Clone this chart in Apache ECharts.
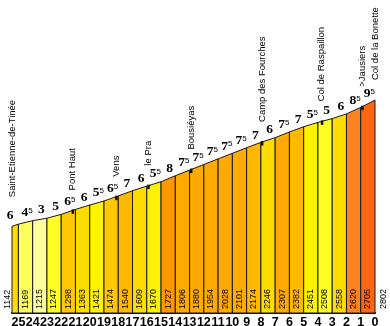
<!DOCTYPE html>
<html><head><meta charset="utf-8">
<script src="https://cdn.jsdelivr.net/npm/echarts@6/dist/echarts.min.js"></script>
<style>html,body{margin:0;padding:0;background:#fff}#c{width:390px;height:326px}</style>
</head><body><div id="c"></div>
<script>
const kmLabels = [25,24,23,22,21,20,19,18,17,16,15,14,13,12,11,10,9,8,7,6,5,4,3,2,1,0];
const kmPositions = [25.45,25,24,23,22,21,20,19,18,17,16,15,14,13,12,11,10,9,8,7,6,5,4,3,2,1,0];
const elevations = [1142,1169,1215,1247,1298,1363,1421,1474,1540,1609,1670,1727,1806,1880,1954,2028,2101,2174,2246,2307,2382,2451,2508,2558,2620,2705,2802];
const gradients = [6,4.5,3,5,6.5,6,5.5,6.5,7,6,5.5,8,7.5,7.5,7.5,7.5,7.5,7,6,7.5,7,5.5,5,6,8.5,9.5];
const placeNames = ['Saint-Etienne-de-Tinée','Pont Haut','Vens','le Pra','Bousiéyas','Camp des Fourches','Col de Raspaillon','>Jausiers','Col de la Bonette'];
const placeKm = [25.45,21.2,18.15,15.9,12.9,7.93,3.73,0.9,0];

function gradColor(g){
  const map = {3:'#FFFFA0',4.5:'#FFFF5C',5:'#FFFF22',5.5:'#FFF200',6:'#FFDC00',6.5:'#FFC800',7:'#FFB800',7.5:'#FFAA00',8:'#FF9800',8.5:'#FF8420',9.5:'#FF6612'};
  return map[g] || '#FFCC00';
}
function elevAt(k){
  for(let i=0;i<kmPositions.length-1;i++){
    const a=kmPositions[i], b=kmPositions[i+1];
    if(k<=a && k>=b){ const t=(a-k)/(a-b); return elevations[i]+t*(elevations[i+1]-elevations[i]); }
  }
  return elevations[elevations.length-1];
}
const segs = gradients.map((g,i)=>[kmPositions[i],elevations[i],kmPositions[i+1],elevations[i+1],g]);
const pts = elevations.map((e,i)=>[kmPositions[i],e]);
const places = placeKm.map((k,i)=>[k,elevAt(k),i]);

const chart = echarts.init(document.getElementById('c'));
chart.setOption({
  animation:false,
  grid:{left:12,right:15,top:85,bottom:13,containLabel:false,outerBoundsMode:'none'},
  xAxis:{type:'value',inverse:true,min:0,max:25.45,interval:1,
    axisLine:{show:true,onZero:true,lineStyle:{color:'#000',width:2}},
    axisTick:{show:false},splitLine:{show:false},
    axisLabel:{fontFamily:'Liberation Sans',fontWeight:'bold',fontSize:12.5,color:'#000',margin:3,
      formatter:v=>kmLabels.includes(v)?String(v):''}},
  yAxis:{type:'value',min:0,max:3000,show:false},
  series:[
    {type:'custom',data:segs,encode:{x:[0,2],y:[1,3]},z:2,
     renderItem:(params,api)=>{
       const p0=api.coord([api.value(0),0]),p1=api.coord([api.value(0),api.value(1)]),
             p2=api.coord([api.value(2),api.value(3)]),p3=api.coord([api.value(2),0]);
       return {type:'polygon',shape:{points:[p0,p1,p2,p3]},
         style:{fill:gradColor(api.value(4)),stroke:'#1a1a1a',lineWidth:1}};
     }},
    {type:'custom',data:segs,encode:{x:[0,2],y:[1,3]},z:5,
     renderItem:(params,api)=>{
       const p1=api.coord([api.value(0),api.value(1)]),p2=api.coord([api.value(2),api.value(3)]);
       const g=api.value(4);
       let cx=(p1[0]+p2[0])/2+1.5;
       if(params.dataIndex===0) cx=p1[0]-2;
       const cy=(p1[1]+p2[1])/2-3;
       const ip=Math.floor(g), half=g-ip>0;
       const txt='{a|'+ip+'}'+(half?'{b|5}':'');
       return {type:'text',x:cx,y:cy,
         style:{text:txt,align:'center',verticalAlign:'bottom',fill:'#000',
           rich:{a:{fontFamily:'Liberation Serif',fontWeight:'bold',fontSize:13.5,lineHeight:13,verticalAlign:'bottom',fill:'#000'},
                 b:{fontFamily:'Liberation Sans',fontSize:8,lineHeight:8,verticalAlign:'top',fill:'#000'}}}};
     }},
    {type:'custom',data:pts,encode:{x:0,y:1},z:5,
     renderItem:(params,api)=>{
       const p=api.coord([api.value(0),0]);
       const i=params.dataIndex;
       let dx=7;
       if(i===0) dx=-4;
       if(i===pts.length-1) dx=9;
       return {type:'text',x:p[0]+dx,y:p[1]-4,rotation:Math.PI/2,
         style:{text:String(api.value(1)),align:'left',verticalAlign:'middle',
           fontFamily:'Liberation Sans',fontSize:9,fill:'#000'}};
     }},
    {type:'custom',data:places,encode:{x:0,y:1},z:6,
     renderItem:(params,api)=>{
       const i=params.dataIndex;
       const p=api.coord([api.value(0),api.value(1)]);
       const gap = i===0 ? 29 : 20;
       const children=[{type:'text',x:p[0],y:p[1]-gap,rotation:Math.PI/2,
         style:{text:placeNames[i],align:'left',verticalAlign:'middle',
           fontFamily:'Liberation Sans',fontSize:9.5,fill:'#000'}}];
       if(i>0 && i<places.length-1){
         children.push({type:'rect',shape:{x:p[0]-1,y:p[1]-1,width:2.5,height:4.5},style:{fill:'#111'}});
       }
       return {type:'group',children};
     }}
  ]
});
</script></body></html>
